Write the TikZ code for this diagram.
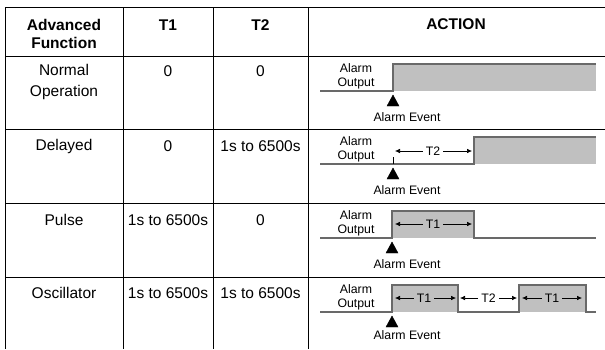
\documentclass[tikz,border=0pt]{standalone}
\usepackage{fontspec}
\setmainfont{Liberation Sans}
\usepackage{tikz}
\usetikzlibrary{arrows.meta,positioning}
\definecolor{pulsegray}{RGB}{192,192,192}
\definecolor{edgegray}{RGB}{105,105,105}
\tikzstyle{rule} = [line width=0.9pt, color=black]
\tikzstyle{cell} = [font=\fontsize{15.5}{21}\selectfont, align=center, inner sep=0pt]
\tikzstyle{headcell} = [font=\bfseries\fontsize{15.5}{18}\selectfont, align=center, inner sep=0pt]
\tikzstyle{tag} = [font=\fontsize{12.3}{14}\selectfont, align=center, inner sep=0pt]
\tikzstyle{spanlabel} = [font=\fontsize{12.3}{14}\selectfont, inner sep=3pt]
\tikzstyle{level} = [draw=edgegray, line width=1.3pt]
\tikzstyle{span} = [line width=0.6pt, ->, >={Latex[length=5pt,width=4.5pt]}]
\tikzstyle{event} = [fill=black]

\begin{document}
\begin{tikzpicture}[x=1pt, y=-1pt]
\useasboundingbox (0,0) rectangle (605,349);

% Table rules
\draw[rule] (5.5,7) -- (605,7);
\draw[rule] (5.5,56) -- (605,56);
\draw[rule] (5.5,129) -- (605,129);
\draw[rule] (5.5,203) -- (605,203);
\draw[rule] (5.5,277) -- (605,277);
\draw[rule] (5.5,7) -- (5.5,349);
\draw[rule] (123,7) -- (123,349);
\draw[rule] (213,7) -- (213,349);
\draw[rule] (308,7) -- (308,349);

% Header row
\node[headcell] (hdFunction) at (64,34) {Advanced\\Function};
\node[headcell] (hdTone) at (168,25) {T1};
\node[headcell] (hdTtwo) at (260.5,25) {T2};
\node[headcell] (hdAction) at (456,24) {ACTION};

% Function, T1 and T2 columns
\node[cell] (fnNormal) at (64,82) {Normal\\Operation};
\node[cell] (oneNormal) at (168,71) {0};
\node[cell] (twoNormal) at (260.5,71) {0};

\node[cell] (fnDelayed) at (64,146) {Delayed};
\node[cell] (oneDelayed) at (168,146) {0};
\node[cell] (twoDelayed) at (260.5,146) {1s to 6500s};

\node[cell] (fnPulse) at (64,220) {Pulse};
\node[cell] (onePulse) at (168,220) {1s to 6500s};
\node[cell] (twoPulse) at (260.5,220) {0};

\node[cell] (fnOsc) at (64,293) {Oscillator};
\node[cell] (oneOsc) at (168,293) {1s to 6500s};
\node[cell] (twoOsc) at (260.5,293) {1s to 6500s};

% Normal operation
\begin{scope}[shift={(0,56)}]
\fill[pulsegray] (393,8) rectangle (596,35);
\draw[level] (320,35) -- (393,35) -- (393,8) -- (596,8);
\node[tag] (outNormal) at (356,20) {Alarm\\Output};
\draw[event] (393,39) -- (387,50) -- (399,50) -- cycle;
\node[tag] (evNormal) at (407,61) {Alarm Event};
\end{scope}

% Delayed
\begin{scope}[shift={(0,129)}]
\fill[pulsegray] (474,8) rectangle (596,35);
\draw[level] (320,35) -- (474,35) -- (474,8) -- (596,8);
\draw[line width=0.6pt] (393,28) -- (393,35);
\node[tag] (outDelayed) at (356,20) {Alarm\\Output};
\node[spanlabel] (tTwoDelayed) at (433,22) {T2};
\coordinate (dlLeft) at (395,22);
\coordinate (dlRight) at (472,22);
\draw[span] (tTwoDelayed.west) -- (dlLeft);
\draw[span] (tTwoDelayed.east) -- (dlRight);
\draw[event] (393,39) -- (387,50) -- (399,50) -- cycle;
\node[tag] (evDelayed) at (407,61) {Alarm Event};
\end{scope}

% Pulse
\begin{scope}[shift={(0,203)}]
\fill[pulsegray] (392,8) rectangle (474,35);
\draw[level] (320,35) -- (392,35) -- (392,8) -- (474,8) -- (474,35) -- (596,35);
\node[tag] (outPulse) at (356,20) {Alarm\\Output};
\node[spanlabel] (tOnePulse) at (433,21) {T1};
\coordinate (plLeft) at (395,21);
\coordinate (plRight) at (472,21);
\draw[span] (tOnePulse.west) -- (plLeft);
\draw[span] (tOnePulse.east) -- (plRight);
\draw[event] (392,39) -- (386,50) -- (398,50) -- cycle;
\node[tag] (evPulse) at (407,61) {Alarm Event};
\end{scope}

% Oscillator
\begin{scope}[shift={(0,277)}]
\fill[pulsegray] (392,8) rectangle (458,35);
\fill[pulsegray] (519,8) rectangle (586,35);
\draw[level] (320,35) -- (392,35) -- (392,8) -- (458,8) -- (458,35) -- (519,35) -- (519,8) -- (586,8) -- (586,35) -- (596,35);
\node[tag] (outOsc) at (356,20) {Alarm\\Output};
\node[spanlabel] (tOneOsc) at (424,21) {T1};
\coordinate (ocOneL) at (395,21);
\coordinate (ocOneR) at (456,21);
\draw[span] (tOneOsc.west) -- (ocOneL);
\draw[span] (tOneOsc.east) -- (ocOneR);
\node[spanlabel] (tTwoOsc) at (488.5,21) {T2};
\coordinate (ocTwoL) at (460,21);
\coordinate (ocTwoR) at (517,21);
\draw[span] (tTwoOsc.west) -- (ocTwoL);
\draw[span] (tTwoOsc.east) -- (ocTwoR);
\node[spanlabel] (tOneOscB) at (552,21) {T1};
\coordinate (ocThreeL) at (522,21);
\coordinate (ocThreeR) at (582,21);
\draw[span] (tOneOscB.west) -- (ocThreeL);
\draw[span] (tOneOscB.east) -- (ocThreeR);
\draw[event] (392,39) -- (386,50) -- (398,50) -- cycle;
\node[tag] (evOsc) at (407,58) {Alarm Event};
\end{scope}
\end{tikzpicture}
\end{document}
